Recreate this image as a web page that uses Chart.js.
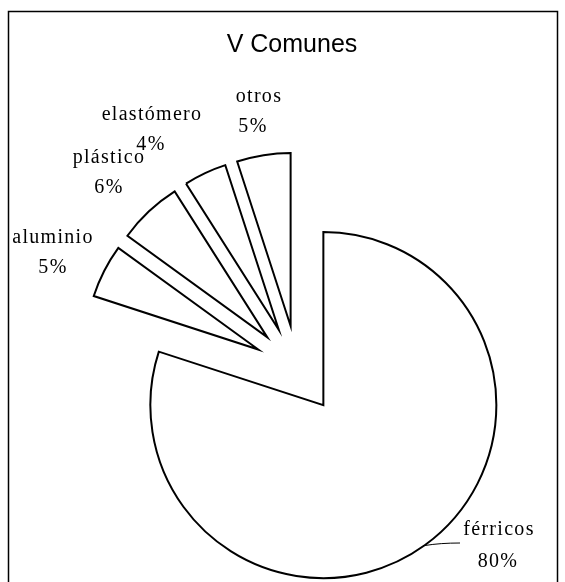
<!DOCTYPE html>
<html>
<head>
<meta charset="utf-8">
<script src="https://cdn.jsdelivr.net/npm/chart.js@4/dist/chart.umd.min.js"></script>
<style>
  html, body { margin: 0; padding: 0; background: #fff; }
</style>
</head>
<body>
<canvas id="chartComunes" width="565" height="582"></canvas>
<script>
const TITLE = 'V Comunes';
const categories = ['férricos', 'aluminio', 'plástico', 'elastómero', 'otros'];
const shares = [80, 5, 6, 4, 5];
const percentLabels = ['80%', '5%', '6%', '4%', '5%'];

// label placement (baselines), same order as categories
const nameAnchors = [[498, 535], [52, 243], [108, 163], [151, 120], [258, 102]];
const pctAnchors = [[497, 567], [52, 273], [108, 193], [150, 150], [252, 132]];

const PIE_RADIUS = 173;
const EXPLODE = 44;

// every slice is pulled out along its bisector, like the source sheet
const explodePlugin = {
  id: 'explode',
  afterDatasetUpdate(chart, args) {
    args.meta.data.forEach((arc) => {
      const mid = (arc.startAngle + arc.endAngle) / 2;
      arc.x += EXPLODE * Math.cos(mid);
      arc.y += EXPLODE * Math.sin(mid);
    });
  },
};

const decorPlugin = {
  id: 'decor',
  afterDraw(chart) {
    const ctx = chart.ctx;
    ctx.save();

    // outer frame
    ctx.strokeStyle = '#000';
    ctx.lineWidth = 1.5;
    ctx.strokeRect(8.5, 11.5, 549, 600);

    // title
    ctx.fillStyle = '#000';
    ctx.font = '25px "Liberation Sans", Arial, sans-serif';
    ctx.textAlign = 'center';
    ctx.textBaseline = 'alphabetic';
    ctx.fillText(TITLE, 292, 52);

    // data labels
    ctx.font = '20px "Liberation Serif", "Times New Roman", serif';
    ctx.letterSpacing = '1.3px';
    categories.forEach((name, i) => {
      ctx.fillText(name, nameAnchors[i][0] + 1, nameAnchors[i][1]);
      ctx.fillText(percentLabels[i], pctAnchors[i][0] + 1, pctAnchors[i][1]);
    });

    // leader line for férricos
    ctx.lineWidth = 1;
    ctx.beginPath();
    ctx.moveTo(425, 545.5);
    ctx.quadraticCurveTo(440, 543, 460, 543);
    ctx.stroke();

    ctx.restore();
  },
};

new Chart(document.getElementById('chartComunes').getContext('2d'), {
  type: 'pie',
  data: {
    labels: categories,
    datasets: [
      {
        data: shares,
        backgroundColor: '#fff',
        borderColor: '#000',
        borderWidth: 2,
        borderJoinStyle: 'miter',
      },
    ],
  },
  options: {
    responsive: false,
    animation: false,
    devicePixelRatio: 1,
    radius: PIE_RADIUS,
    layout: { padding: { left: 60, right: 30, top: 180, bottom: 23 } },
    plugins: {
      legend: { display: false },
      title: { display: false },
      tooltip: { enabled: false },
    },
    events: [],
  },
  plugins: [explodePlugin, decorPlugin],
});
</script>
</body>
</html>
